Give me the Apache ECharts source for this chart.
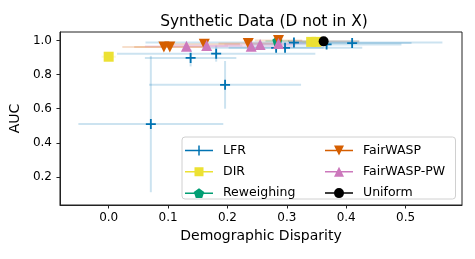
<!DOCTYPE html>
<html>
<head>
<meta charset="utf-8">
<script src="https://cdn.jsdelivr.net/npm/echarts@6/dist/echarts.min.js"></script>
<style>html,body{margin:0;padding:0;background:#fff}#c{width:475px;height:259px}</style>
</head>
<body>
<div id="c"></div>
<script>
// ---- data ----
const xTicks = [0.0, 0.1, 0.2, 0.3, 0.4, 0.5];
const yTicks = [0.2, 0.4, 0.6, 0.8, 1.0];

const lfrX = [0.071, 0.196, 0.138, 0.181, 0.282, 0.297, 0.312, 0.367, 0.410];
const lfrY = [0.51, 0.74, 0.898, 0.923, 0.957, 0.957, 0.988, 0.977, 0.985];
const lfrXErr = [0.122, 0.128, 0.077, 0.167, 0.08, 0.13, 0.25, 0.126, 0.1];
const lfrYErr = [0.40, 0.14, 0.05, 0.047, 0.02, 0.02, 0.01, 0.015, 0.01];

const dirX = [0.0, 0.341, 0.350];
const dirY = [0.905, 0.992, 0.992];
const dirXErr = [0.012, 0.015, 0.015];
const dirYErr = [0.01, 0.01, 0.01];

const rwX = [0.284];
const rwY = [0.997];
const rwXErr = [0.02];
const rwYErr = [0.005];

const fwX = [0.093, 0.103, 0.161, 0.235, 0.286];
const fwY = [0.962, 0.962, 0.978, 0.982, 1.0];
const fwXErr = [0.07, 0.06, 0.06, 0.05, 0.04];
const fwYErr = [0.01, 0.01, 0.01, 0.01, 0.005];

const pwX = [0.131, 0.165, 0.240, 0.255, 0.286];
const pwY = [0.966, 0.971, 0.966, 0.976, 0.982];
const pwXErr = [0.07, 0.06, 0.07, 0.06, 0.05];
const pwYErr = [0.01, 0.01, 0.01, 0.01, 0.008];

const uniX = [0.362];
const uniY = [0.995];
const uniXErr = [0.06];
const uniYErr = [0.005];

// ---- styling ----
const FONT = 'DejaVu Sans';
const C = {LFR:'#0173b2', DIR:'#ece133', RW:'#029e73', FW:'#d55e00', PW:'#cc78bc', UNI:'#000000'};

const SYM_PLUS = 'path://M0,4.1 L10,4.1 L10,5.9 L0,5.9 Z M4.1,0 L5.9,0 L5.9,10 L4.1,10 Z';
const SYM_PENT = 'path://M5,0 L9.76,3.45 L7.94,9.05 L2.06,9.05 L0.24,3.45 Z';

const LINE = 'M0,4.25 L28,4.25 L28,5.75 L0,5.75 Z ';
const ICON = {
  LFR: 'path://' + LINE + 'M13.25,0 L14.75,0 L14.75,10 L13.25,10 Z',
  DIR: 'path://' + LINE + 'M9.5,0.5 L18.5,0.5 L18.5,9.5 L9.5,9.5 Z M0,0 L0,0 M0,10 L0,10',
  RW: 'path://' + LINE + 'M14,0 L19.23,3.8 L17.23,9.95 L10.77,9.95 L8.77,3.8 Z',
  FW: 'path://' + LINE + 'M9,0 L19,0 L14,10 Z',
  PW: 'path://' + LINE + 'M14,0 L19,10 L9,10 Z',
  UNI: 'path://' + LINE + 'M9,5 A5,5 0 1,1 19,5 A5,5 0 1,1 9,5 Z'
};

function zip(xs, ys, xe, ye) { return xs.map((x, i) => [x, ys[i], xe[i], ye[i]]); }

function errSeries(name, color, data) {
  return {
    type: 'custom', name: name + '-err', data: data, clip: true, z: 1,
    encode: {x: 0, y: 1}, silent: true,
    renderItem: function (params, api) {
      const x = api.value(0), y = api.value(1), xe = api.value(2), ye = api.value(3);
      const l = api.coord([x - xe, y]), r = api.coord([x + xe, y]);
      const t = api.coord([x, y + ye]), b = api.coord([x, y - ye]);
      const st = {stroke: color, lineWidth: 2, opacity: 0.2};
      return {type: 'group', children: [
        {type: 'line', shape: {x1: l[0], y1: l[1], x2: r[0], y2: r[1]}, style: st},
        {type: 'line', shape: {x1: t[0], y1: t[1], x2: b[0], y2: b[1]}, style: st}
      ]};
    }
  };
}
function ptSeries(name, color, data, symbol, size, rot) {
  return {
    type: 'scatter', name: name, data: data.map(d => [d[0], d[1]]), z: 3,
    symbol: symbol, symbolSize: size, symbolRotate: rot || 0,
    itemStyle: {color: color, opacity: 1}, emphasis: {disabled: true}, silent: true
  };
}

const dLFR = zip(lfrX, lfrY, lfrXErr, lfrYErr);
const dDIR = zip(dirX, dirY, dirXErr, dirYErr);
const dRW = zip(rwX, rwY, rwXErr, rwYErr);
const dFW = zip(fwX, fwY, fwXErr, fwYErr);
const dPW = zip(pwX, pwY, pwXErr, pwYErr);
const dUNI = zip(uniX, uniY, uniXErr, uniYErr);

const legendBase = {
  orient: 'vertical', top: 144, itemWidth: 28, itemHeight: 10, itemGap: 8.3, padding: 0, z: 20,
  textStyle: {fontFamily: FONT, fontSize: 12.5, color: '#000', padding: [0, 0, 0, 5]},
  selectedMode: false
};

const chart = echarts.init(document.getElementById('c'), null, {renderer: 'canvas'});
chart.setOption({
  animation: false,
  backgroundColor: '#fff',
  title: {
    text: 'Synthetic Data (D not in X)', left: 259, textAlign: 'center', top: 9,
    textStyle: {fontFamily: FONT, fontSize: 15.4, fontWeight: 'normal', color: '#000'}
  },
  grid: {left: 58, right: 13, top: 32, bottom: 54, show: true, borderColor: '#222', borderWidth: 1, backgroundColor: 'transparent'},
  xAxis: {
    type: 'value', min: -0.082, max: 0.595,
    name: 'Demographic Disparity', nameLocation: 'middle', nameGap: 24,
    nameTextStyle: {fontFamily: FONT, fontSize: 14, color: '#000'},
    splitLine: {show: false},
    axisLine: {show: true, onZero: false, lineStyle: {color: '#222', width: 1}},
    axisTick: {show: true, customValues: xTicks, length: 3.5, lineStyle: {color: '#222'}},
    axisLabel: {customValues: xTicks, margin: 7, fontFamily: FONT, fontSize: 12, color: '#000', formatter: v => v.toFixed(1)}
  },
  yAxis: {
    type: 'value', min: 0.035, max: 1.05,
    name: 'AUC', nameLocation: 'middle', nameGap: 32, nameRotate: 90,
    nameTextStyle: {fontFamily: FONT, fontSize: 14, color: '#000'},
    splitLine: {show: false},
    axisLine: {show: true, onZero: false, lineStyle: {color: '#222', width: 1}},
    axisTick: {show: true, customValues: yTicks, length: 3.5, lineStyle: {color: '#222'}},
    axisLabel: {customValues: yTicks, margin: 8, fontFamily: FONT, fontSize: 12, color: '#000', formatter: v => v.toFixed(1)}
  },
  legend: [
    Object.assign({}, legendBase, {left: 185, data: [
      {name: 'LFR', icon: ICON.LFR}, {name: 'DIR', icon: ICON.DIR}, {name: 'Reweighing', icon: ICON.RW}]}),
    Object.assign({}, legendBase, {left: 325, data: [
      {name: 'FairWASP', icon: ICON.FW}, {name: 'FairWASP-PW', icon: ICON.PW}, {name: 'Uniform', icon: ICON.UNI}]})
  ],
  graphic: [{
    type: 'rect', left: 181.5, top: 136.5, z: 5,
    shape: {width: 273.5, height: 62, r: 3},
    style: {fill: 'rgba(255,255,255,0.8)', stroke: '#d0d0d0', lineWidth: 1}
  }],
  series: [
    errSeries('LFR', C.LFR, dLFR),
    errSeries('DIR', C.DIR, dDIR),
    errSeries('Reweighing', C.RW, dRW),
    errSeries('FairWASP', C.FW, dFW),
    errSeries('FairWASP-PW', C.PW, dPW),
    errSeries('Uniform', C.UNI, dUNI),
    ptSeries('LFR', C.LFR, dLFR, SYM_PLUS, 10),
    ptSeries('DIR', C.DIR, dDIR, 'rect', 10),
    ptSeries('Reweighing', C.RW, dRW, SYM_PENT, 10),
    ptSeries('FairWASP', C.FW, dFW, 'triangle', 11, 180),
    ptSeries('FairWASP-PW', C.PW, dPW, 'triangle', 11),
    ptSeries('Uniform', C.UNI, dUNI, 'circle', 10)
  ]
});
</script>
</body>
</html>
